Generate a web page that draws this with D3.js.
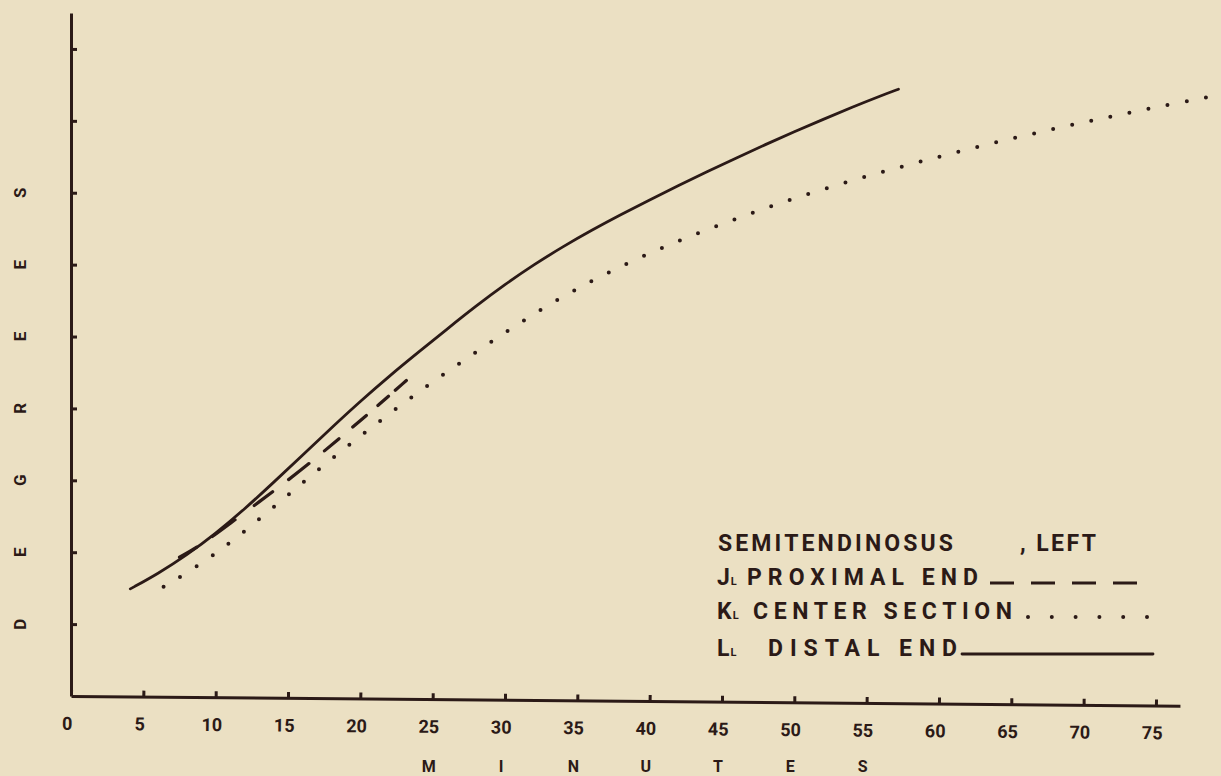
<!DOCTYPE html>
<html>
<head>
<meta charset="utf-8">
<script src="https://cdn.jsdelivr.net/npm/d3@7"></script>
<style>
  html, body { margin: 0; padding: 0; background: #ebe0c3; }
  svg { display: block; }
  text { font-family: Roboto, "Liberation Sans Narrow", sans-serif; font-weight: bold; fill: #2b1a17; }
</style>
</head>
<body>
<svg id="chart" width="1221" height="776"></svg>
<script>
// Axis ticks and lettering
const minuteTicks = [0, 5, 10, 15, 20, 25, 30, 35, 40, 45, 50, 55, 60, 65, 70, 75];
const degreeTicks = [10, 20, 30, 40, 50, 60, 70, 80, 90];
const yTitleLetters = ["D", "E", "G", "R", "E", "E", "S"];
const yTitleAt = [10, 20, 30, 40, 50, 60, 70];
const xTitleLetters = ["M", "I", "N", "U", "T", "E", "S"];
const xTitleAt = [25, 30, 35, 40, 45, 50, 55];

// Legend text
const muscleName = "SEMITENDINOSUS";
const muscleSide = ", LEFT";
const seriesKeys = ["J", "K", "L"];
const seriesNames = ["PROXIMAL END", "CENTER SECTION", "DISTAL END"];

// [minutes, degrees]
const proximalEnd = [
  [7.5, 19.3], [9, 21.0], [11, 24.0], [13, 27.0], [15, 30.0],
  [17, 33.2], [19, 36.6], [21, 40.0], [23.3, 44.1]
];
const centerSection = [
  [6.4, 15.2], [8, 17.1], [10, 19.8], [12, 22.9], [14, 26.25], [16, 29.65],
  [18, 32.95], [20, 36.15], [22, 39.25], [24, 42.25], [26, 45.1], [28, 47.85],
  [30, 50.55], [32, 53.15], [34, 55.55], [36, 57.75], [38, 59.75], [40, 61.6],
  [42, 63.3], [44, 64.9], [46, 66.4], [48, 67.85], [50, 69.2], [52, 70.5],
  [54, 71.7], [56, 72.85], [58, 73.95], [60, 75.0], [62, 76.05], [64, 77.05],
  [66, 78.0], [68, 78.9], [70, 79.8], [72, 80.65], [74, 81.5], [76, 82.3],
  [78.6, 83.3]
];
const distalEnd = [
  [4.1, 14.9], [6, 17.0], [8, 19.6], [10, 22.6], [12, 26.0], [14, 29.7],
  [16, 33.5], [18, 37.3], [20, 41.0], [22, 44.5], [24, 47.8], [26, 51.05],
  [28, 54.25], [30, 57.25], [32, 60.0], [34, 62.5], [36, 64.8], [38, 66.95],
  [40, 69.0], [42, 71.0], [44, 72.95], [46, 74.85], [48, 76.7], [50, 78.5],
  [52, 80.2], [54, 81.9], [56, 83.5], [57.2, 84.4]
];

const ink = "#2b1a17";
const svg = d3.select("#chart");

const x = d3.scaleLinear().domain([0, 76.66]).range([71, 1180]);
const y = d3.scaleLinear().domain([0, 95]).range([696, 13]);

// Y axis: ticks point into the plot, no numbers
const yAxis = svg.append("g")
  .attr("transform", "translate(71,0)")
  .call(d3.axisLeft(y).tickValues(degreeTicks).tickSize(-6).tickSizeOuter(0).tickFormat(""));
yAxis.selectAll("path, line").attr("stroke", ink).attr("stroke-width", 3);

// X axis, drawn slightly tilted like the hand-ruled baseline
const xAxis = svg.append("g")
  .attr("transform", "translate(0,696) rotate(0.5,71,0)")
  .call(d3.axisBottom(x).tickValues(minuteTicks).tickSize(-6).tickSizeOuter(0).tickPadding(21));
xAxis.selectAll("path, line").attr("stroke", ink).attr("stroke-width", 3);
xAxis.selectAll("text")
  .attr("dx", -4)
  .style("font-size", "18px")
  .style("font-family", "Roboto, sans-serif")
  .style("font-weight", "bold")
  .attr("fill", ink);

// Spelled-out axis titles, one letter per tick
svg.append("g").selectAll("text")
  .data(yTitleLetters)
  .join("text")
  .attr("transform", (d, i) => `translate(20,${y(yTitleAt[i])}) rotate(-90)`)
  .attr("text-anchor", "middle")
  .attr("dominant-baseline", "central")
  .style("font-size", "17px")
  .text(d => d);

svg.append("g").selectAll("text")
  .data(xTitleLetters)
  .join("text")
  .attr("x", (d, i) => x(xTitleAt[i]) - 4)
  .attr("y", 772)
  .attr("text-anchor", "middle")
  .style("font-size", "16px")
  .text(d => d);

// Curves
const line = d3.line()
  .x(d => x(d[0]))
  .y(d => y(d[1]))
  .curve(d3.curveBasis);

svg.append("path")
  .datum(distalEnd)
  .attr("d", line)
  .attr("fill", "none")
  .attr("stroke", ink)
  .attr("stroke-width", 2.8)
  .attr("stroke-linecap", "round");

svg.append("path")
  .datum(centerSection)
  .attr("d", line)
  .attr("fill", "none")
  .attr("stroke", ink)
  .attr("stroke-width", 4)
  .attr("stroke-linecap", "round")
  .attr("stroke-dasharray", "0 19.5");

svg.append("path")
  .datum(proximalEnd)
  .attr("d", line)
  .attr("fill", "none")
  .attr("stroke", ink)
  .attr("stroke-width", 3.2)
  .attr("stroke-linecap", "round")
  .attr("stroke-dasharray", "20 19 28 24 23 20 26 20 19 18 18 15 14 9 15");

// Legend
const legend = svg.append("g");
legend.append("text")
  .attr("x", 718).attr("y", 551)
  .attr("textLength", 235).attr("lengthAdjust", "spacing")
  .style("font-size", "23px")
  .text(muscleName);
legend.append("text")
  .attr("x", 1020).attr("y", 551)
  .attr("textLength", 76).attr("lengthAdjust", "spacing")
  .style("font-size", "23px")
  .text(muscleSide);

const rowBase = [585, 619, 656];
const nameStart = [747, 753, 768];
const nameEnd = [978, 1012, 957];
const sampleStyle = [
  { x0: 990, x1: 1138, dash: "24 17", w: 3, cap: "butt" },
  { x0: 1028, x1: 1148, dash: "0 23.8", w: 4, cap: "round" },
  { x0: 962, x1: 1153, dash: null, w: 2.8, cap: "round" }
];

seriesKeys.forEach((k, i) => {
  const key = legend.append("text")
    .attr("x", 717).attr("y", rowBase[i])
    .style("font-size", "23px");
  key.append("tspan").text(k);
  key.append("tspan").attr("dx", 1).style("font-size", "11px").text("L");

  legend.append("text")
    .attr("x", nameStart[i]).attr("y", rowBase[i])
    .attr("textLength", nameEnd[i] - nameStart[i])
    .attr("lengthAdjust", "spacing")
    .style("font-size", "23px")
    .text(seriesNames[i]);

  const s = sampleStyle[i];
  legend.append("line")
    .attr("x1", s.x0).attr("x2", s.x1)
    .attr("y1", rowBase[i] - 2).attr("y2", rowBase[i] - 2)
    .attr("stroke", ink)
    .attr("stroke-width", s.w)
    .attr("stroke-linecap", s.cap)
    .attr("stroke-dasharray", s.dash);
});
</script>
</body>
</html>
